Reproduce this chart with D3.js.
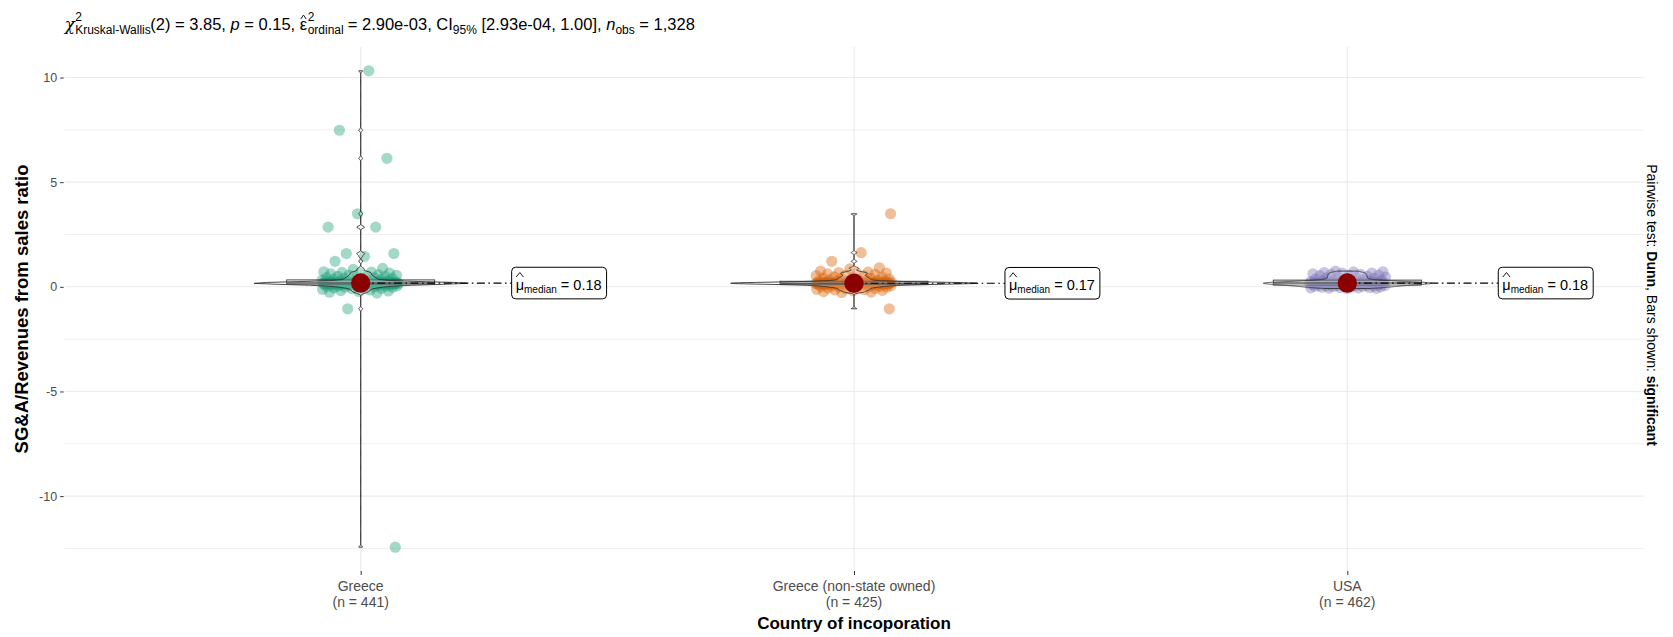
<!DOCTYPE html>
<html>
<head>
<meta charset="utf-8">
<script src="https://cdn.jsdelivr.net/npm/d3@7"></script>
<style>
  html, body { margin: 0; padding: 0; background: #fff; }
  svg { display: block; font-family: "Liberation Sans", Arial, sans-serif; }
  text { white-space: pre; }
</style>
</head>
<body>
<svg id="chart" width="1673" height="637"></svg>
<script>
// ---- data ----
const categories = ["Greece", "Greece (non-state owned)", "USA"];
const groupSizes = [441, 425, 462];
const medians = [0.18, 0.17, 0.18];

const greeceValues = [
  10.32, 7.48, 6.14, 3.49, 2.85, 2.85, 1.59, 1.59, 1.46, 1.22, 0.88, 0.83, 0.72,
  0.70, 0.69, 0.66, 0.64, 0.62, 0.58, 0.56, 0.55, 0.52, 0.50, 0.49, 0.46, 0.44, 0.43,
  0.42, 0.40, 0.38, 0.37, 0.36, 0.34, 0.32, 0.30, 0.29, 0.28, 0.27, 0.26, 0.25, 0.24,
  0.23, 0.23, 0.23, 0.22, 0.22, 0.22, 0.22, 0.21, 0.21, 0.21, 0.21, 0.21,
  0.20, 0.20, 0.20, 0.20, 0.20, 0.19, 0.19, 0.19, 0.19, 0.19, 0.19,
  0.18, 0.18, 0.18, 0.18, 0.18, 0.18, 0.18, 0.17, 0.17, 0.17, 0.17, 0.17, 0.17, 0.17,
  0.16, 0.16, 0.16, 0.16, 0.16, 0.16, 0.15, 0.15, 0.15, 0.15, 0.15,
  0.14, 0.14, 0.14, 0.14, 0.14, 0.13, 0.13, 0.13, 0.13, 0.12, 0.12, 0.12,
  0.11, 0.10, 0.10, 0.09, 0.08, 0.08, 0.07, 0.06, 0.05, 0.04, 0.04, 0.03, 0.02, 0.01,
  0.00, -0.01, -0.02, -0.03, -0.05, -0.07, -0.09, -0.12, -0.15, -0.18, -0.20, -0.22, -0.26, -0.30,
  -1.05, -12.44
];
const greeceNonStateValues = [
  3.49, 1.63, 1.22, 0.91, 0.86, 0.75,
  0.70, 0.68, 0.66, 0.64, 0.62, 0.60, 0.56, 0.54, 0.52, 0.48, 0.46, 0.45, 0.42,
  0.40, 0.39, 0.37, 0.35, 0.33, 0.31, 0.29, 0.28, 0.27, 0.26, 0.25, 0.24,
  0.23, 0.23, 0.22, 0.22, 0.22, 0.21, 0.21, 0.21, 0.20, 0.20, 0.20, 0.20,
  0.19, 0.19, 0.19, 0.19, 0.18, 0.18, 0.18, 0.18, 0.18, 0.18,
  0.17, 0.17, 0.17, 0.17, 0.17, 0.17, 0.17, 0.17, 0.17,
  0.16, 0.16, 0.16, 0.16, 0.16, 0.16, 0.16,
  0.15, 0.15, 0.15, 0.15, 0.14, 0.14, 0.14, 0.13, 0.13, 0.13, 0.12, 0.12, 0.11, 0.11,
  0.10, 0.09, 0.09, 0.08, 0.07, 0.06, 0.05, 0.05, 0.04, 0.03, 0.02, 0.01, 0.00,
  -0.01, -0.02, -0.04, -0.06, -0.08, -0.09, -0.12, -0.14, -0.15, -0.17, -0.19, -0.23, -0.25, -0.27,
  -1.05
];
const usaValues = [
  0.75, 0.72, 0.71, 0.68, 0.66, 0.65, 0.62, 0.60, 0.59, 0.56, 0.54, 0.53, 0.50,
  0.48, 0.47, 0.45, 0.43, 0.41, 0.39, 0.37, 0.35, 0.33, 0.31, 0.29, 0.28, 0.27,
  0.26, 0.25, 0.24, 0.24, 0.23, 0.23, 0.22, 0.22, 0.21, 0.21, 0.21, 0.20, 0.20, 0.20,
  0.19, 0.19, 0.19, 0.18, 0.18, 0.18, 0.18, 0.17, 0.17, 0.17, 0.16, 0.16, 0.16,
  0.15, 0.15, 0.15, 0.14, 0.14, 0.13, 0.13, 0.12, 0.12, 0.11,
  0.10, 0.09, 0.08, 0.08, 0.07, 0.07, 0.06, 0.06, 0.05, 0.04, 0.03, 0.03, 0.02, 0.01,
  0.00, -0.01, -0.02, -0.03, -0.04, -0.05, -0.05, -0.06, -0.07, -0.08
];
const groupValues = [greeceValues, greeceNonStateValues, usaValues];

const yTicks = [-10, -5, 0, 5, 10];
const yMinorTicks = [-12.5, -7.5, -2.5, 2.5, 7.5];
const palette = ["#1B9E77", "#D95F02", "#7570B3"];

// ---- layout ----
const svg = d3.select("#chart");
const panel = { left: 64.7, right: 1643.3, top: 47, bottom: 571 };
const font = '"Liberation Sans", Arial, sans-serif';

const x = d3.scalePoint().domain(categories).range([panel.left, panel.right]).padding(0.6);
const step = x.step();

const allValues = [].concat(...groupValues);
const [vMin, vMax] = d3.extent(allValues);
const expand = (vMax - vMin) * 0.05;
const y = d3.scaleLinear().domain([vMin - expand, vMax + expand]).range([panel.bottom, panel.top]);

// ---- grid ----
const grid = svg.append("g");
grid.selectAll("line.minor").data(yMinorTicks).join("line")
  .attr("x1", panel.left).attr("x2", panel.right)
  .attr("y1", d => y(d)).attr("y2", d => y(d))
  .attr("stroke", "#ededed").attr("stroke-width", 0.9);
grid.selectAll("line.major").data(yTicks).join("line")
  .attr("x1", panel.left).attr("x2", panel.right)
  .attr("y1", d => y(d)).attr("y2", d => y(d))
  .attr("stroke", "#ebebeb").attr("stroke-width", 1.1);
grid.selectAll("line.vert").data(categories).join("line")
  .attr("x1", d => x(d)).attr("x2", d => x(d))
  .attr("y1", panel.top).attr("y2", panel.bottom)
  .attr("stroke", "#ebebeb").attr("stroke-width", 1.1);

// ---- axes ----
const yAxis = svg.append("g").attr("transform", `translate(${panel.left - 1},0)`)
  .call(d3.axisLeft(y).tickValues(yTicks).tickSize(3.5).tickPadding(3).tickFormat(d3.format("d")));
yAxis.select(".domain").remove();
yAxis.selectAll(".tick line").attr("stroke", "#333").attr("stroke-width", 1);
yAxis.selectAll(".tick text").attr("fill", "#4d4d4d").attr("font-size", 12.5).attr("font-family", font)
  .text(d => d < 0 ? "-" + Math.abs(d) : d);

const xAxis = svg.append("g").attr("transform", `translate(0,${panel.bottom})`)
  .call(d3.axisBottom(x).tickSize(4).tickFormat(""));
xAxis.select(".domain").remove();
xAxis.selectAll(".tick line").attr("stroke", "#333").attr("stroke-width", 1);

const xLabels = svg.append("g").attr("fill", "#4d4d4d").attr("font-size", 14).attr("font-family", font)
  .attr("text-anchor", "middle");
categories.forEach((c, i) => {
  xLabels.append("text").attr("x", x(c)).attr("y", 591).text(c);
  xLabels.append("text").attr("x", x(c)).attr("y", 606.5).text(`(n = ${groupSizes[i]})`);
});

svg.append("text").attr("x", (panel.left + panel.right) / 2).attr("y", 629)
  .attr("text-anchor", "middle").attr("font-size", 17).attr("font-weight", "bold")
  .attr("font-family", font).attr("fill", "#000").text("Country of incoporation");

svg.append("text").attr("transform", `translate(28,${(panel.top + panel.bottom) / 2}) rotate(-90)`)
  .attr("text-anchor", "middle").attr("font-size", 18.5).attr("font-weight", "bold")
  .attr("font-family", font).attr("fill", "#000").text("SG&A/Revenues from sales ratio");

// secondary axis title: pairwise test caption
const cap = svg.append("text").attr("transform", `translate(1647,${(panel.top + panel.bottom) / 2 - 4}) rotate(90)`)
  .attr("text-anchor", "middle").attr("font-size", 14).attr("font-family", font).attr("fill", "#000");
cap.append("tspan").text("Pairwise test: ");
cap.append("tspan").attr("font-weight", "bold").text("Dunn");
cap.append("tspan").text(", Bars shown: ");
cap.append("tspan").attr("font-weight", "bold").text("significant");

// ---- jittered points ----
const phi = 0.6180339887;
const jitterHalf = 0.078 * step;
const pts = svg.append("g");
groupValues.forEach((vals, g) => {
  const cx = x(categories[g]);
  pts.selectAll(null).data(vals).join("circle")
    .attr("cx", (d, i) => cx + (((i * phi + 0.605 + 0.37 * g) % 1) - 0.5) * 2 * jitterHalf)
    .attr("cy", d => y(d))
    .attr("r", 5.6)
    .attr("fill", palette[g]).attr("fill-opacity", 0.4);
});

// ---- box plots ----
const boxHalf = 0.15 * step;
const boxes = svg.append("g");
groupValues.forEach((vals, g) => {
  const cx = x(categories[g]);
  const s = vals.slice().sort(d3.ascending);
  const q1 = d3.quantileSorted(s, 0.25), q3 = d3.quantileSorted(s, 0.75), iqr = q3 - q1;
  const hiW = d3.max(s.filter(v => v <= q3 + 1.5 * iqr));
  const loW = d3.min(s.filter(v => v >= q1 - 1.5 * iqr));
  boxes.append("line").attr("x1", cx).attr("x2", cx).attr("y1", y(q3)).attr("y2", y(hiW))
    .attr("stroke", "#333").attr("stroke-width", 1);
  boxes.append("line").attr("x1", cx).attr("x2", cx).attr("y1", y(q1)).attr("y2", y(loW))
    .attr("stroke", "#333").attr("stroke-width", 1);
  boxes.append("rect").attr("x", cx - boxHalf).attr("width", 2 * boxHalf)
    .attr("y", y(q3)).attr("height", y(q1) - y(q3))
    .attr("fill", "#fff").attr("fill-opacity", 0.2).attr("stroke", "#333").attr("stroke-width", 0.9);
  boxes.append("line").attr("x1", cx - boxHalf).attr("x2", cx + boxHalf)
    .attr("y1", y(medians[g])).attr("y2", y(medians[g]))
    .attr("stroke", "#333").attr("stroke-width", 1.6);
});

// ---- violins (gaussian KDE, nrd0 bandwidth, area scaling) ----
function bandwidth(vals) {
  const s = vals.slice().sort(d3.ascending);
  const iqr = d3.quantileSorted(s, 0.75) - d3.quantileSorted(s, 0.25);
  const lo = Math.min(d3.deviation(s), iqr / 1.34);
  return 0.9 * lo * Math.pow(s.length, -0.2);
}
const densities = groupValues.map(vals => {
  const bw = bandwidth(vals);
  const [a, b] = d3.extent(vals);
  const k = 1 / (bw * Math.sqrt(2 * Math.PI));
  return d3.range(512).map(j => {
    const t = a + (b - a) * j / 511;
    return { v: t, d: k * d3.mean(vals, v => Math.exp(-0.5 * ((t - v) / bw) ** 2)) };
  });
});
const maxDensity = d3.max(densities, ds => d3.max(ds, p => p.d));
const violinHalf = 0.25 * step;
const violins = svg.append("g");
densities.forEach((ds, g) => {
  const cx = x(categories[g]);
  const area = d3.area()
    .y(p => y(p.v))
    .x0(p => cx - violinHalf * p.d / maxDensity)
    .x1(p => cx + violinHalf * p.d / maxDensity);
  violins.append("path").attr("d", area(ds))
    .attr("fill", "#fff").attr("fill-opacity", 0.2)
    .attr("stroke", "#333").attr("stroke-width", 0.9);
});

// ---- medians: connector, point, label ----
const labels = svg.append("g").attr("font-family", font);
medians.forEach((m, g) => {
  const cx = x(categories[g]);
  const ym = y(m);
  const left = cx + 0.306 * step;
  labels.append("line").attr("x1", cx).attr("x2", left).attr("y1", ym).attr("y2", ym)
    .attr("stroke", "#000").attr("stroke-width", 1.2).attr("stroke-dasharray", "8,3.5,1.6,3.5");
  labels.append("circle").attr("cx", cx).attr("cy", ym).attr("r", 9.7).attr("fill", "#8b0000");

  const box = labels.append("rect");
  const base = ym + 6.5;
  let tx = left + 4;
  const mu = labels.append("text").attr("x", tx).attr("y", base).attr("font-size", 14.5).text("μ");
  const muW = mu.node().getComputedTextLength();
  labels.append("path")
    .attr("d", `M${tx + 0.5},${base - 12.5} L${tx + muW / 2},${base - 17} L${tx + muW - 0.5},${base - 12.5}`)
    .attr("fill", "none").attr("stroke", "#000").attr("stroke-width", 0.9);
  tx += muW;
  const sub = labels.append("text").attr("x", tx).attr("y", base + 3.5).attr("font-size", 10).text("median");
  tx += sub.node().getComputedTextLength();
  const val = labels.append("text").attr("x", tx).attr("y", base).attr("font-size", 14.5).text(` = ${m.toFixed(2)}`);
  tx += val.node().getComputedTextLength();
  box.attr("x", left).attr("y", ym - 15.8).attr("width", tx - left + 5).attr("height", 31.6)
    .attr("rx", 4).attr("ry", 4).attr("fill", "#fff").attr("stroke", "#000").attr("stroke-width", 1);
});

// ---- statistical subtitle ----
const M = 16.5, S = 12;
const titleBase = 30;
const titleParts = [
  { t: "χ", size: M, family: '"DejaVu Serif", serif', italic: true },
  { stack: [{ t: "2", size: S, dy: -9 }, { t: "Kruskal-Wallis", size: S, dy: 4 }] },
  { t: "(2) = 3.85, ", size: M },
  { t: "p", size: M, italic: true },
  { t: " = 0.15, ", size: M },
  { t: "ε", size: M, hat: true },
  { stack: [{ t: "2", size: S, dy: -9 }, { t: "ordinal", size: S, dy: 4 }] },
  { t: " = 2.90e-03, ", size: M },
  { t: "CI", size: M },
  { t: "95%", size: S, dy: 4 },
  { t: " [2.93e-04, 1.00], ", size: M },
  { t: "n", size: M, italic: true },
  { t: "obs", size: S, dy: 4 },
  { t: " = 1,328", size: M }
];
const title = svg.append("g").attr("font-family", font).attr("fill", "#000");
let cursor = panel.left;
function putText(p, xPos) {
  const el = title.append("text").attr("x", xPos).attr("y", titleBase + (p.dy || 0))
    .attr("font-size", p.size).attr("font-style", p.italic ? "italic" : null)
    .attr("font-family", p.family || null).text(p.t);
  return el.node().getComputedTextLength();
}
titleParts.forEach(p => {
  if (p.stack) {
    cursor += Math.max(...p.stack.map(s => putText(s, cursor + 0.5)));
  } else {
    const w = putText(p, cursor);
    if (p.hat) {
      title.append("path")
        .attr("d", `M${cursor + 1},${titleBase - 11} L${cursor + w / 2},${titleBase - 15} L${cursor + w - 1},${titleBase - 11}`)
        .attr("fill", "none").attr("stroke", "#000").attr("stroke-width", 0.9);
    }
    cursor += w;
  }
});
</script>
</body>
</html>
